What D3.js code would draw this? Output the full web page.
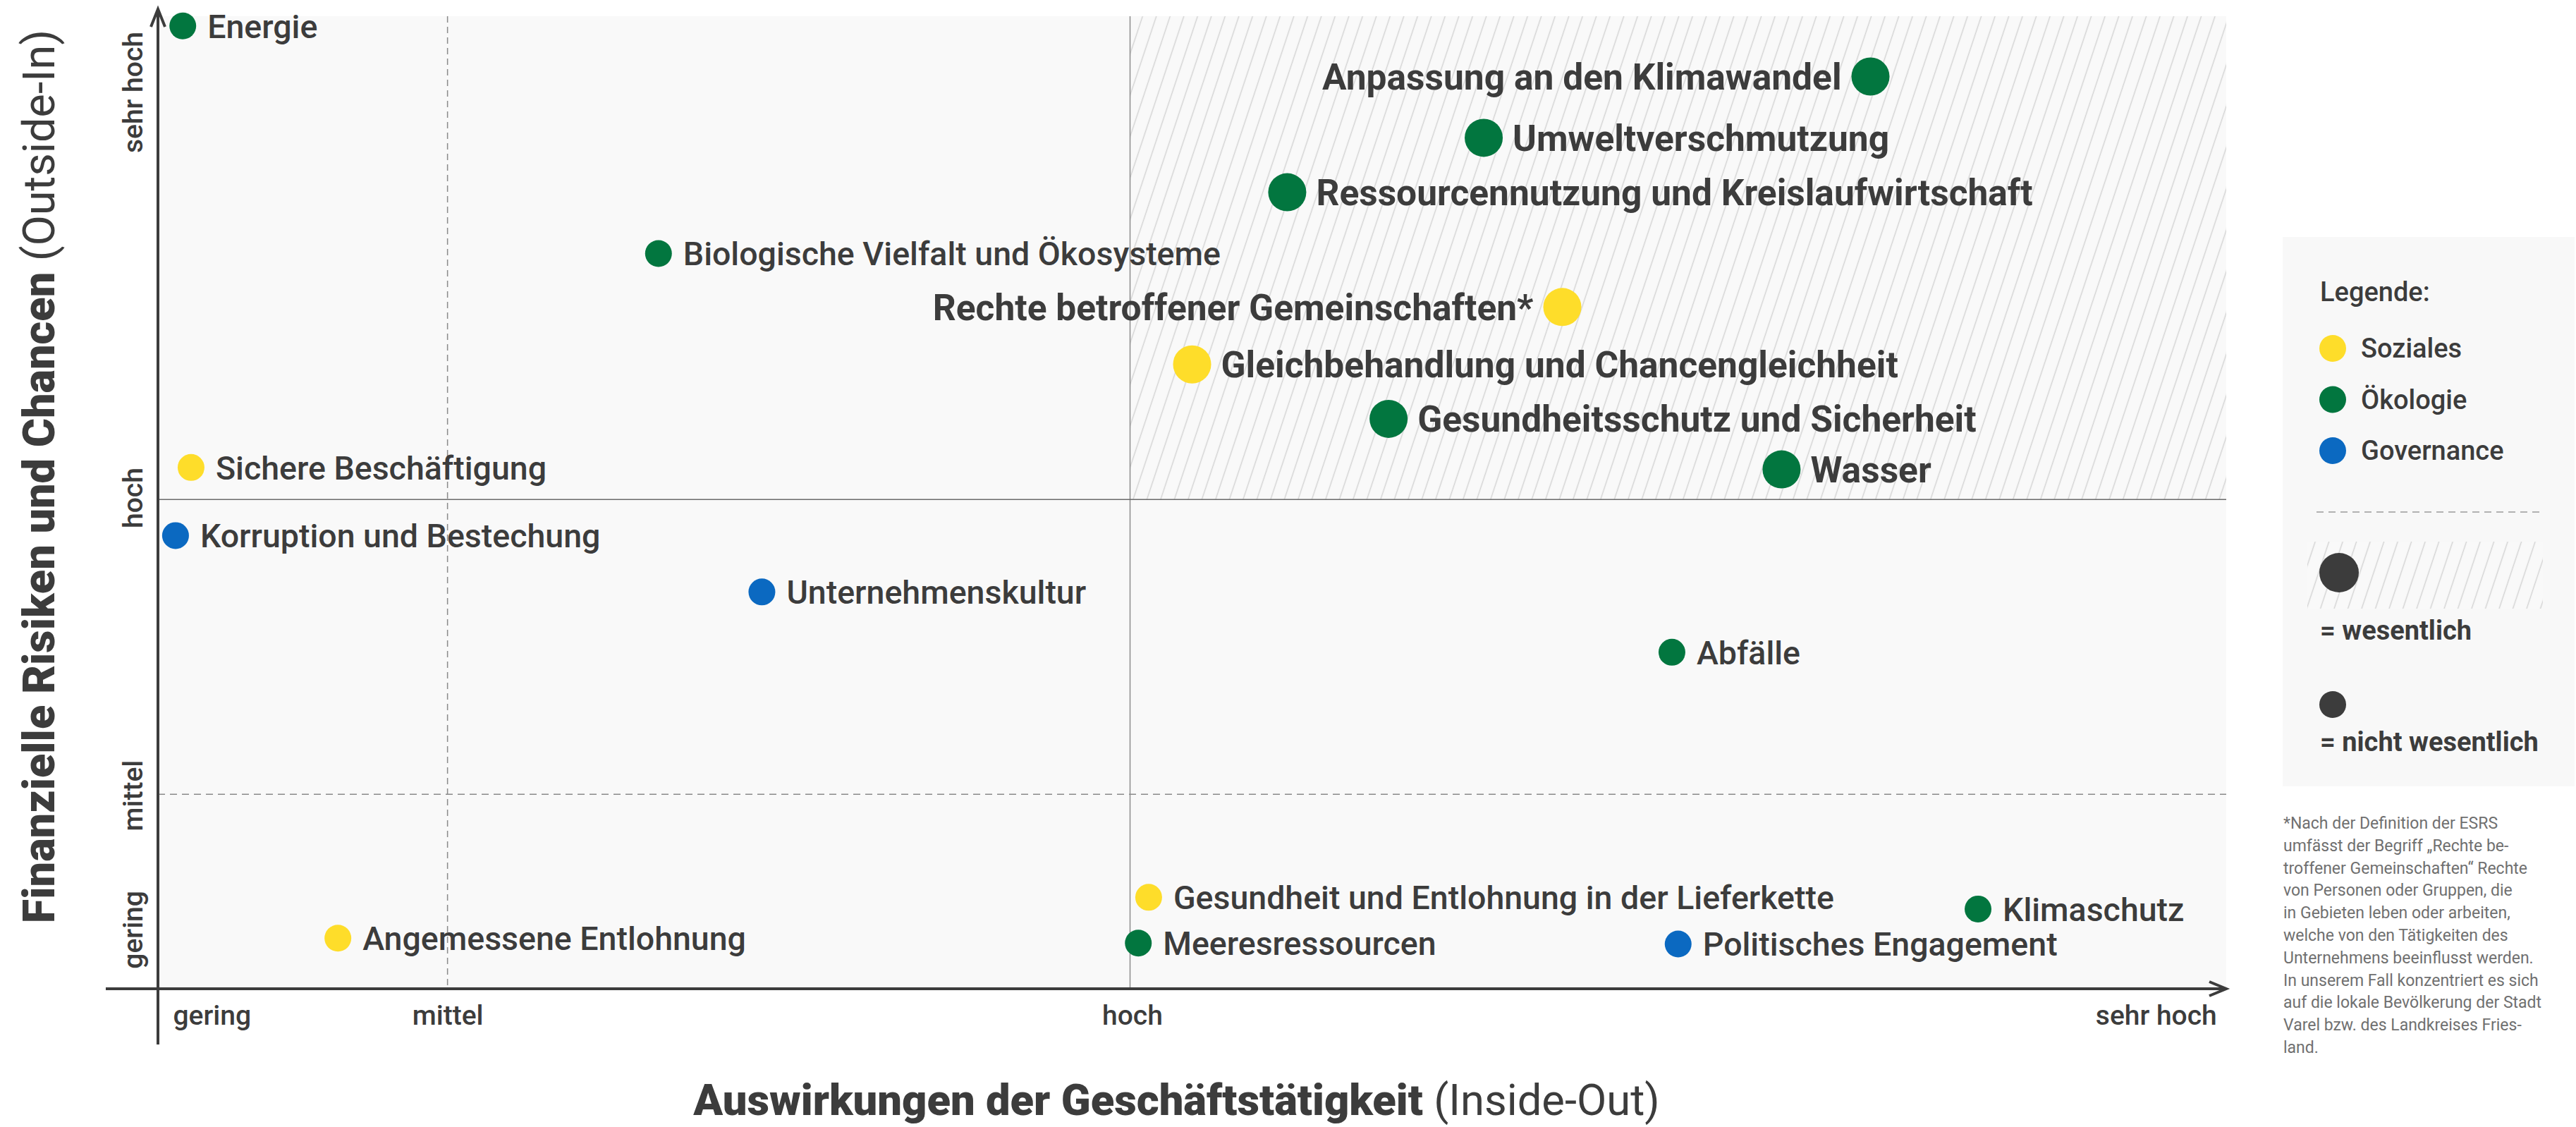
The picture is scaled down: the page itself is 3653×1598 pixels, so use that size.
<!DOCTYPE html>
<html>
<head>
<meta charset="utf-8">
<script src="https://cdn.jsdelivr.net/npm/d3@7"></script>
<style>
  body { margin: 0; background: #ffffff; }
  svg text { font-family: Roboto, "Noto Sans", sans-serif; }
</style>
</head>
<body>
<svg id="chart"></svg>
<script>
// ---------- DATA ----------
const topics = [
  "Energie",
  "Anpassung an den Klimawandel",
  "Umweltverschmutzung",
  "Ressourcennutzung und Kreislaufwirtschaft",
  "Biologische Vielfalt und Ökosysteme",
  "Rechte betroffener Gemeinschaften*",
  "Gleichbehandlung und Chancengleichheit",
  "Gesundheitsschutz und Sicherheit",
  "Wasser",
  "Sichere Beschäftigung",
  "Korruption und Bestechung",
  "Unternehmenskultur",
  "Abfälle",
  "Angemessene Entlohnung",
  "Gesundheit und Entlohnung in der Lieferkette",
  "Meeresressourcen",
  "Politisches Engagement",
  "Klimaschutz"
];
// Auswirkungen der Geschäftstätigkeit (Inside-Out), 0–100
const impact = [1.2, 82.8, 64.1, 54.6, 24.2, 67.9, 50.0, 59.5, 78.5, 1.6, 0.85, 29.2, 73.2, 8.7, 47.9, 47.4, 73.5, 88.0];
// Finanzielle Risiken und Chancen (Outside-In), 0–100
const financial = [99.0, 93.8, 87.5, 81.9, 75.6, 70.1, 64.2, 58.6, 53.4, 53.6, 46.6, 40.8, 34.6, 5.2, 9.4, 4.7, 4.6, 8.2];
const pillar = ["Ökologie","Ökologie","Ökologie","Ökologie","Ökologie","Soziales","Soziales","Ökologie","Ökologie",
                "Soziales","Governance","Governance","Ökologie","Soziales","Soziales","Ökologie","Governance","Ökologie"];
const material = [false,true,true,true,false,true,true,true,true,false,false,false,false,false,false,false,false,false];
const labelSide = ["right","left","right","right","right","left","right","right","right",
                   "right","right","right","right","right","right","right","right","right"];

const tickLabels = ["gering", "mittel", "hoch", "sehr hoch"];
const xTickPos = [2.6, 14.0, 47.1, 96.6];
const yTickPos = [6.1, 19.9, 50.5, 92.2];
const xThresholds = [14.0, 47.0];   // mittel, hoch
const yThresholds = [20.0, 50.3];   // mittel, hoch

const legendCategories = ["Soziales", "Ökologie", "Governance"];
const legendColors = ["#fedd2a", "#02763f", "#0b69c1"];
const materialLegend = ["= wesentlich", "= nicht wesentlich"];

const footnoteLines = [
  "*Nach der Definition der ESRS",
  "umfässt der Begriff \u201ERechte be-",
  "troffener Gemeinschaften\u201C Rechte",
  "von Personen oder Gruppen, die",
  "in Gebieten leben oder arbeiten,",
  "welche von den Tätigkeiten des",
  "Unternehmens beeinflusst werden.",
  "In unserem Fall konzentriert es sich",
  "auf die lokale Bevölkerung der Stadt",
  "Varel bzw. des Landkreises Fries-",
  "land."
];

// ---------- LAYOUT ----------
const W = 3653, H = 1598;
const TEXT = "#3c3c3c";
const svg = d3.select("#chart").attr("width", W).attr("height", H);

const x = d3.scaleLinear().domain([0, 100]).range([224, 3157]);
const y = d3.scaleLinear().domain([0, 100]).range([1402, 23]);
const color = d3.scaleOrdinal().domain(legendCategories).range(legendColors);

// hatch pattern
const defs = svg.append("defs");
const hs = 18.5;
const pat = defs.append("pattern").attr("id", "hatch")
  .attr("patternUnits", "userSpaceOnUse")
  .attr("width", hs).attr("height", hs)
  .attr("patternTransform", "rotate(18.4)");
pat.append("rect").attr("width", hs).attr("height", hs).attr("fill", "#f9f9f9");
pat.append("line").attr("x1", hs / 2).attr("x2", hs / 2).attr("y1", -1).attr("y2", hs + 1)
  .attr("stroke", "#d3d3d3").attr("stroke-width", 1.4);

// plot background
svg.append("rect")
  .attr("x", x(0)).attr("y", y(100))
  .attr("width", x(100) - x(0)).attr("height", y(0) - y(100))
  .attr("fill", "#f9f9f9");
// material quadrant hatch
svg.append("rect")
  .attr("x", x(xThresholds[1])).attr("y", y(100))
  .attr("width", x(100) - x(xThresholds[1])).attr("height", y(yThresholds[1]) - y(100))
  .attr("fill", "url(#hatch)");

// dashed mittel lines
svg.append("line")
  .attr("x1", x(xThresholds[0])).attr("x2", x(xThresholds[0]))
  .attr("y1", y(100)).attr("y2", y(0))
  .attr("stroke", "#8a8a8a").attr("stroke-width", 1.5).attr("stroke-dasharray", "9,6");
svg.append("line")
  .attr("x1", x(0)).attr("x2", x(100))
  .attr("y1", y(yThresholds[0])).attr("y2", y(yThresholds[0]))
  .attr("stroke", "#8a8a8a").attr("stroke-width", 1.5).attr("stroke-dasharray", "10,7");
// solid hoch lines
svg.append("line")
  .attr("x1", x(xThresholds[1])).attr("x2", x(xThresholds[1]))
  .attr("y1", y(100)).attr("y2", y(0))
  .attr("stroke", "#8c8c8c").attr("stroke-width", 1.5);
svg.append("line")
  .attr("x1", x(0)).attr("x2", x(100))
  .attr("y1", y(yThresholds[1])).attr("y2", y(yThresholds[1]))
  .attr("stroke", "#6a6a6a").attr("stroke-width", 1.5);

// axes lines with arrows
const axisG = svg.append("g").attr("stroke", TEXT).attr("stroke-width", 4).attr("fill", "none");
axisG.append("line").attr("x1", x(0)).attr("x2", x(0)).attr("y1", y(0) + 79).attr("y2", y(100) - 9);
axisG.append("path")
  .attr("d", `M${x(0) - 10},${y(100) + 15} L${x(0)},${y(100) - 10} L${x(0) + 10},${y(100) + 15}`);
axisG.append("line").attr("x1", x(0) - 74).attr("x2", x(100)).attr("y1", y(0)).attr("y2", y(0));
axisG.append("path")
  .attr("d", `M${x(100) - 24},${y(0) - 10} L${x(100)},${y(0)} L${x(100) - 24},${y(0) + 10}`);

// x tick labels
const xAxis = d3.axisBottom(x).tickValues(xTickPos).tickFormat((d, i) => tickLabels[i]).tickSize(0);
const gx = svg.append("g").attr("transform", `translate(0,${y(0)})`).call(xAxis);
gx.select(".domain").remove();
gx.selectAll("text")
  .attr("y", 51).attr("dy", 0)
  .attr("fill", TEXT).attr("font-size", 39).attr("font-weight", 500)
  .style("font-family", "Roboto, sans-serif");

// y tick labels (rotated)
const yAxis = d3.axisLeft(y).tickValues(yTickPos).tickFormat((d, i) => tickLabels[i]).tickSize(0);
const gy = svg.append("g").attr("transform", `translate(${x(0)},0)`).call(yAxis);
gy.select(".domain").remove();
gy.selectAll("text")
  .attr("x", 0).attr("y", 0).attr("dy", 0)
  .attr("transform", "translate(-22,0) rotate(-90)")
  .attr("text-anchor", "middle")
  .attr("fill", TEXT).attr("font-size", 39).attr("font-weight", 500)
  .style("font-family", "Roboto, sans-serif");

// points
const pts = topics.map((t, i) => ({
  name: t, xv: impact[i], yv: financial[i], cat: pillar[i], mat: material[i], side: labelSide[i]
}));
const radius = d => d.mat ? 27 : 19;

svg.append("g").selectAll("circle").data(pts).join("circle")
  .attr("cx", d => x(d.xv)).attr("cy", d => y(d.yv))
  .attr("r", radius).attr("fill", d => color(d.cat));

svg.append("g").selectAll("text").data(pts).join("text")
  .attr("x", d => x(d.xv) + (d.side === "left" ? -1 : 1) * (radius(d) + (d.mat ? 14 : 16)))
  .attr("y", d => y(d.yv))
  .attr("dy", "0.36em")
  .attr("text-anchor", d => d.side === "left" ? "end" : "start")
  .attr("font-size", d => d.mat ? 51.5 : 46.5)
  .attr("font-weight", d => d.mat ? 700 : 500)
  .attr("fill", TEXT)
  .text(d => d.name);

// axis titles
const yt = svg.append("text")
  .attr("transform", `translate(77,${(y(0) + y(100)) / 2 - 37}) rotate(-90)`)
  .attr("text-anchor", "middle").attr("font-size", 63).attr("fill", TEXT);
yt.append("tspan").attr("font-weight", 900).text("Finanzielle Risiken und Chancen ");
yt.append("tspan").attr("font-weight", 400).text("(Outside-In)");

const xt = svg.append("text")
  .attr("x", (x(0) + x(100)) / 2 - 22).attr("y", 1581)
  .attr("text-anchor", "middle").attr("font-size", 61.5).attr("fill", TEXT);
xt.append("tspan").attr("font-weight", 900).text("Auswirkungen der Geschäftstätigkeit ");
xt.append("tspan").attr("font-weight", 400).text("(Inside-Out)");

// ---------- LEGEND ----------
const lg = svg.append("g");
lg.append("rect").attr("x", 3237).attr("y", 336).attr("width", 414).attr("height", 779).attr("fill", "#f8f8f8");
lg.append("text").attr("x", 3290).attr("y", 427).attr("font-size", 38).attr("font-weight", 500)
  .attr("fill", TEXT).text("Legende:");
const li = lg.selectAll("g.li").data(legendCategories).join("g").attr("class", "li")
  .attr("transform", (d, i) => `translate(0,${494 + i * 72.5})`);
li.append("circle").attr("cx", 3308).attr("cy", 0).attr("r", 19).attr("fill", d => color(d));
li.append("text").attr("x", 3348).attr("y", 13).attr("font-size", 38).attr("font-weight", 500)
  .attr("fill", TEXT).text(d => d);
lg.append("line").attr("x1", 3285).attr("x2", 3605).attr("y1", 726).attr("y2", 726)
  .attr("stroke", "#9a9a9a").attr("stroke-width", 1.5).attr("stroke-dasharray", "10,7");
lg.append("rect").attr("x", 3272).attr("y", 768).attr("width", 334).attr("height", 95).attr("fill", "url(#hatch)");
lg.append("circle").attr("cx", 3317).attr("cy", 812).attr("r", 28).attr("fill", TEXT);
lg.append("text").attr("x", 3290).attr("y", 907).attr("font-size", 38).attr("font-weight", 700)
  .attr("fill", TEXT).text(materialLegend[0]);
lg.append("circle").attr("cx", 3308).attr("cy", 999).attr("r", 19).attr("fill", TEXT);
lg.append("text").attr("x", 3290).attr("y", 1065).attr("font-size", 38).attr("font-weight", 700)
  .attr("fill", TEXT).text(materialLegend[1]);

// footnote
svg.append("g").selectAll("text").data(footnoteLines).join("text")
  .attr("x", 3238).attr("y", (d, i) => 1175 + i * 31.8)
  .attr("font-size", 23).attr("font-weight", 400).attr("fill", "#707070")
  .text(d => d);
</script>
</body>
</html>
